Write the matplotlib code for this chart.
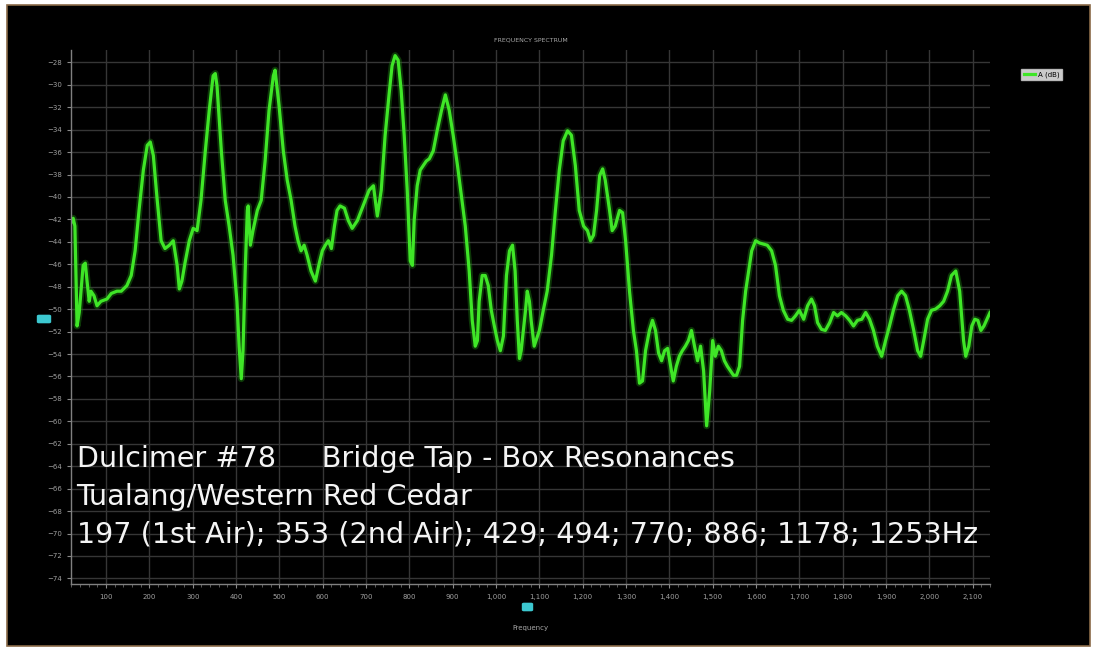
import matplotlib
matplotlib.use("Agg")
import matplotlib.pyplot as plt
from matplotlib.patches import Rectangle, FancyBboxPatch
from matplotlib.ticker import FuncFormatter, MultipleLocator

# ---------------- data ----------------
freq_hz = [19, 24, 28, 33, 38, 47, 52, 56, 61, 65, 72, 79, 88, 102, 112, 125, 135, 148, 158, 167,
           176, 186, 195, 202, 209, 218, 227, 236, 246, 255, 264, 269, 275, 282, 292, 301, 310, 319,
           329, 338, 347, 352, 356, 366, 375, 384, 393, 402, 407, 412, 416, 421, 426, 428, 433, 439,
           449, 458, 467, 476, 486, 490, 499, 509, 518, 527, 536, 543, 550, 557, 564, 573, 583, 592,
           599, 606, 613, 620, 627, 633, 640, 650, 659, 668, 680, 693, 707, 717, 726, 735, 744, 753,
           760, 767, 774, 781, 788, 795, 802, 807, 811, 818, 825, 832, 839, 846, 855, 864, 874, 883,
           892, 901, 911, 920, 929, 938, 945, 952, 957, 961, 968, 975, 982, 989, 996, 1003, 1010,
           1017, 1024, 1031, 1038, 1044, 1049, 1054, 1058, 1063, 1068, 1072, 1077, 1081, 1088, 1100,
           1109, 1118, 1128, 1137, 1146, 1155, 1165, 1174, 1183, 1192, 1202, 1211, 1218, 1225, 1232,
           1239, 1246, 1252, 1262, 1268, 1275, 1285, 1292, 1299, 1308, 1317, 1324, 1331, 1338, 1345,
           1354, 1361, 1368, 1375, 1382, 1389, 1396, 1403, 1409, 1416, 1423, 1430, 1437, 1444, 1451,
           1458, 1465, 1472, 1479, 1486, 1493, 1500, 1506, 1513, 1520, 1527, 1534, 1541, 1548, 1555,
           1562, 1569, 1576, 1583, 1590, 1599, 1608, 1617, 1626, 1636, 1645, 1654, 1663, 1673, 1682,
           1691, 1700, 1710, 1719, 1728, 1735, 1742, 1751, 1760, 1770, 1779, 1788, 1797, 1807, 1816,
           1825, 1834, 1844, 1853, 1862, 1871, 1880, 1890, 1899, 1908, 1917, 1927, 1936, 1945, 1954,
           1964, 1973, 1980, 1987, 1996, 2005, 2014, 2024, 2033, 2042, 2051, 2061, 2070, 2079, 2084,
           2091, 2098, 2105, 2112, 2119, 2126, 2133, 2140]

level_db = [-42.3, -41.9, -42.6, -51.5, -50.3, -46.1, -45.9, -47.5, -49.3, -48.4, -48.8, -49.7, -49.3,
            -49.1, -48.6, -48.4, -48.4, -47.9, -47.0, -44.8, -41.2, -37.6, -35.4, -35.1, -36.3, -40.3,
            -43.9, -44.6, -44.3, -43.9, -46.1, -48.2, -47.5, -45.9, -43.9, -42.8, -43.0, -40.3, -35.9,
            -32.3, -29.2, -29.0, -30.1, -35.9, -40.3, -42.6, -45.2, -49.3, -53.3, -56.2, -53.7, -46.6,
            -41.2, -40.8, -44.3, -43.0, -41.2, -40.3, -36.8, -32.3, -29.2, -28.7, -31.8, -35.9, -38.5,
            -40.3, -42.6, -43.9, -44.8, -44.3, -45.2, -46.6, -47.5, -45.9, -44.8, -44.3, -43.9, -44.6,
            -42.6, -41.2, -40.8, -41.0, -42.1, -42.8, -42.1, -40.8, -39.4, -39.0, -41.7, -39.4, -34.5,
            -30.9, -28.3, -27.4, -27.8, -30.5, -34.5, -39.4, -45.7, -46.1, -42.1, -39.0, -37.6, -37.2,
            -36.8, -36.6, -35.9, -34.1, -32.3, -30.9, -32.3, -34.5, -37.2, -39.9, -42.6, -46.6, -51.0,
            -53.3, -52.8, -49.3, -47.0, -47.0, -47.9, -50.1, -51.5, -52.8, -53.7, -52.4, -47.0, -44.8,
            -44.3, -46.6, -51.0, -54.4, -53.7, -51.9, -50.1, -48.4, -49.3, -51.0, -53.3, -51.9, -50.1,
            -48.4, -45.2, -41.2, -37.6, -35.0, -34.1, -34.5, -37.2, -41.2, -42.6, -43.0, -43.9, -43.4,
            -41.2, -38.1, -37.5, -38.5, -41.2, -43.0, -42.6, -41.2, -41.4, -43.9, -48.4, -51.9, -53.7,
            -56.6, -56.4, -53.7, -51.9, -51.0, -51.9, -53.9, -54.6, -53.7, -53.5, -55.1, -56.4, -55.1,
            -54.2, -53.7, -53.3, -52.8, -51.9, -53.3, -54.6, -53.3, -55.5, -60.4, -57.3, -52.8, -54.2,
            -53.3, -53.7, -54.6, -55.1, -55.5, -55.9, -55.9, -55.1, -51.0, -48.4, -46.6, -44.8, -43.9,
            -44.1, -44.2, -44.3, -44.8, -46.1, -48.8, -50.1, -50.9, -51.0, -50.6, -50.1, -50.9, -49.7,
            -49.1, -49.7, -51.2, -51.8, -51.9, -51.2, -50.3, -50.6, -50.3, -50.6, -51.0, -51.5, -51.0,
            -50.9, -50.3, -50.9, -51.9, -53.3, -54.2, -52.8, -51.5, -50.1, -48.8, -48.4, -48.8, -50.1,
            -51.9, -53.7, -54.2, -52.8, -50.9, -50.1, -50.0, -49.7, -49.3, -48.4, -47.0, -46.6, -48.4,
            -52.8, -54.2, -53.3, -51.5, -50.9, -51.0, -51.9, -51.5, -50.9, -50.3]

x_ticks = list(range(100, 2101, 100))
y_ticks = list(range(-28, -75, -2))
series_name = "A (dB)"
title_text = "FREQUENCY SPECTRUM"
xlabel_text = "Frequency"
note_lines = ["Dulcimer #78     Bridge Tap - Box Resonances",
              "Tualang/Western Red Cedar",
              "197 (1st Air); 353 (2nd Air); 429; 494; 770; 886; 1178; 1253Hz"]

# ---------------- figure ----------------
W, H = 1097, 655
fig = plt.figure(figsize=(W / 100, H / 100), dpi=100)
fig.patch.set_facecolor("white")
bg = Rectangle((7 / W, 9 / H), (1090 - 7) / W, (650 - 9) / H,
               transform=fig.transFigure, facecolor="black",
               edgecolor="#8a6a48", linewidth=1.2, zorder=-10)
fig.add_artist(bg)

ax = fig.add_axes([71 / W, 71 / H, (990 - 71) / W, (605 - 71) / H])
ax.set_zorder(1)
ax.set_facecolor("black")
ax.set_xlim(19, 2140)
ax.set_ylim(-74.5, -26.9)

ax.set_xticks(x_ticks)
ax.set_yticks(y_ticks)
ax.xaxis.set_major_formatter(FuncFormatter(lambda v, p: f"{int(v):,}"))
ax.xaxis.set_minor_locator(MultipleLocator(20))
ax.tick_params(axis="both", which="major", colors="#8a8a8a", labelsize=5, length=3,
               width=0.8, labelcolor="#a0a0a0")
ax.tick_params(axis="both", which="minor", colors="#6a6a6a", length=2, width=0.6)
ax.tick_params(axis="x", pad=4)
ax.grid(True, which="major", color="#363636", linewidth=1.0)
for side in ["top", "right"]:
    ax.spines[side].set_visible(False)
for side in ["left", "bottom"]:
    ax.spines[side].set_color("#808080")
    ax.spines[side].set_linewidth(1.0)

# glow + line
ax.plot(freq_hz, level_db, color="#1f8a12", linewidth=5, alpha=0.4, solid_capstyle="round")
ax.plot(freq_hz, level_db, color="#3fe627", linewidth=2.3, label=series_name,
        solid_joinstyle="round")

# legend
leg = ax.legend(loc="upper left", bbox_to_anchor=(1.034, 0.965), fontsize=5,
                frameon=True, handlelength=1.6, borderpad=0.35, labelspacing=0.2,
                handletextpad=0.4, borderaxespad=0, fancybox=False)
leg.get_frame().set_facecolor("white")
leg.get_frame().set_edgecolor("#cccccc")

ax.set_title(title_text, color="#a8a8a8", fontsize=4.5, pad=6)
ax.set_xlabel(xlabel_text, color="#a8a8a8", fontsize=5, labelpad=18)

# cursor markers (cyan)
for (x0, y0, w0) in [(39, 322, 10), (524, 610, 7)]:
    fig.add_artist(FancyBboxPatch((x0 / W, (655 - y0) / H), w0 / W, 6 / H,
                                  boxstyle="round,pad=0.002", transform=fig.transFigure,
                                  facecolor="#3cc8d0", edgecolor="none", zorder=5))

# annotation text
for i, line in enumerate(note_lines):
    ax.text(0.006, 0.219 - i * 0.0705, line, transform=ax.transAxes, color="#f4f4f4",
            fontsize=20.6, family=["DejaVu Sans"], va="baseline", ha="left")

fig.savefig("out.png", dpi=100, facecolor=fig.get_facecolor())
